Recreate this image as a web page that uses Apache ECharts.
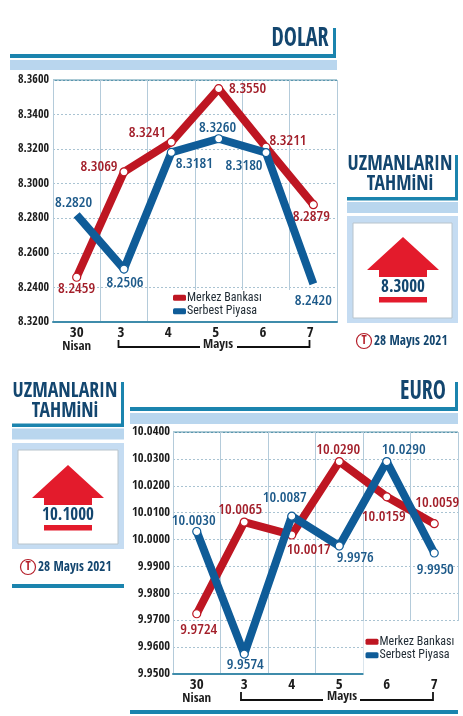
<!DOCTYPE html>
<html>
<head>
<meta charset="utf-8">
<script src="https://cdn.jsdelivr.net/npm/echarts@6/dist/echarts.min.js"></script>
<style>html,body{margin:0;padding:0;background:#fff}#c{width:463px;height:716px}</style>
</head>
<body>
<div id="c"></div>
<script>
// Daily exchange rates, 30 Nisan to 7 Mayıs
const days = ['30', '3', '4', '5', '6', '7'];
const dolarMerkez = [8.2459, 8.3069, 8.3241, 8.3550, 8.3211, 8.2879];
const dolarSerbest = [8.2820, 8.2506, 8.3181, 8.3260, 8.3180, 8.2420];
const euroMerkez = [9.9724, 10.0065, 10.0017, 10.0290, 10.0159, 10.0059];
const euroSerbest = [10.0030, 9.9574, 10.0087, 9.9976, 10.0290, 9.9950];
// The printed scale of the dollar panel, lowest tick first
const dolarTickLabels = ['8.3200', '8.2400', '8.2600', '8.2800', '8.3000', '8.3200', '8.3400', '8.3600'];
const euroTickLabels = ['9.9500', '9.9600', '9.9700', '9.9800', '9.9900', '10.0000', '10.0100', '10.0200', '10.0300', '10.0400'];
const dolarForecast = '8.3000';
const euroForecast = '10.1000';

// Value label placement relative to each point
const dolarMerkezOffsets = [[0, 12], [-25, -5], [-24, -9], [29, 0], [22, -7], [-2, 12]];
const dolarSerbestOffsets = [[-3, -12], [1, 14], [23, 11], [-1, -11], [-22, 13], [0, 17]];
const euroMerkezOffsets = [[2, 16], [-4, -12], [17, 15], [-1, -12], [-3, 20], [3, -21]];
const euroSerbestOffsets = [[-3, -11], [1, 11], [-7, -18], [16, 12], [17, -12], [1, 17]];

const RED = '#BE1622', RED_TEXT = '#A31F2A', BLUE = '#0F5C98', BLUE_TEXT = '#1D5A8A';
const NAVY = '#13466F', TEAL = '#1B84AE', PALE = '#B9D6EE';
const BOLD_FONT = '"Open Sans Condensed"', TEXT_FONT = '"Roboto Condensed"';

function lineSeries(name, values, offsets, color, textColor, axis, hideEnds) {
  return {
    type: 'line', name, xAxisIndex: axis, yAxisIndex: axis, z: color === BLUE ? 3 : 2,
    symbol: 'circle', symbolSize: 8, showAllSymbol: true,
    lineStyle: { color, width: 8, cap: 'butt', join: 'round' },
    itemStyle: { color },
    data: values.map((v, i) => {
      // The free-market dollar line runs open-ended, with no dot at either end
      const open = hideEnds && (i === 0 || i === values.length - 1);
      return {
        value: v,
        symbolSize: open ? 0 : 8,
        itemStyle: open ? { color: 'transparent', borderWidth: 0 } : { color: '#fff', borderColor: color, borderWidth: 1.2 },
        label: {
          show: true, position: 'inside', offset: offsets[i], color: textColor,
          fontFamily: '"Open Sans"', fontStyle: 'condensed', fontWeight: 600, fontSize: 15,
          formatter: p => p.value.toFixed(4)
        }
      };
    })
  };
}

function xAxisFor(gridIndex, shift) {
  return {
    type: 'category', gridIndex, data: days, boundaryGap: true,
    axisTick: { show: false },
    axisLine: { lineStyle: { color: '#3F8CAB', width: 2 } },
    splitLine: { show: true, lineStyle: { color: '#B4CBDA', width: 1 } },
    axisLabel: {
      margin: 4, interval: 0, color: '#1c1c1c',
      formatter: v => v === '30' ? '{n|30}\n{m|Nisan}' : '{s|' + v + '}',
      rich: {
        n: { fontSize: 15, fontWeight: 'bold', fontFamily: BOLD_FONT, lineHeight: 14, color: '#1c1c1c' },
        m: { fontSize: 13, fontWeight: 'bold', fontFamily: BOLD_FONT, lineHeight: 13, color: '#1c1c1c' },
        s: { fontSize: 15, fontWeight: 'bold', fontFamily: BOLD_FONT, lineHeight: 14, color: '#1c1c1c', padding: [0, shift, 0, 0] }
      }
    }
  };
}

function yAxisFor(gridIndex, min, max, interval, labels, size, margin) {
  return {
    type: 'value', gridIndex, min, max, interval,
    axisLine: { show: false }, axisTick: { show: false },
    splitLine: { lineStyle: { color: '#A9C3D2', width: 1, type: [2, 2] } },
    axisLabel: {
      margin, fontFamily: BOLD_FONT, fontWeight: 'bold', fontSize: size, color: '#1c1c1c',
      formatter: (v, i) => labels[i]
    }
  };
}

function legendFor(left, top, padding) {
  return {
    left, top, orient: 'vertical', padding, itemGap: 0, backgroundColor: '#fff',
    icon: 'roundRect', itemWidth: 13, itemHeight: 6, z: 1,
    data: ['Merkez Bankası', 'Serbest Piyasa'],
    textStyle: { fontFamily: TEXT_FONT, fontSize: 12, lineHeight: 13.5, color: '#1f2a33', padding: [0, 0, 0, -4] }
  };
}

// Decorative page furniture
const rect = (x, y, w, h, fill) => ({ type: 'rect', shape: { x, y, width: w, height: h }, style: { fill }, silent: true });
const text = (x, y, t, size, scaleX, fill, align) => ({
  type: 'text', x, y, scaleX, silent: true, z: 5,
  style: { text: t, fill: fill || NAVY, font: 'bold ' + size + 'px ' + BOLD_FONT, align: align || 'center', verticalAlign: 'middle' }
});
const segment = (x1, y1, x2, y2, stroke, lineWidth) => ({
  type: 'line', shape: { x1, y1, x2, y2 }, style: { stroke, lineWidth }, silent: true
});

function forecastPanel(o) {
  const cx = o.arrowX;
  return [
    text(o.textX, o.line1Y, 'UZMANLARIN', 22, 0.9),
    text(o.textX, o.line2Y, 'TAHMiNi', 22, 0.89),
    rect(o.right - 3, o.headTop, 3, o.lineY - o.headTop + 3, TEAL),
    rect(o.left, o.lineY, o.right - o.left, 3.5, TEAL),
    rect(o.left, o.lineY + 5, o.right - o.left, 11, PALE),
    rect(o.left, o.boxTop, o.right - o.left, o.boxBottom - o.boxTop, '#C5DCF2'),
    { type: 'rect', shape: { x: o.left + 6, y: o.boxTop + 7, width: o.right - o.left - 12, height: o.boxBottom - o.boxTop - 12 }, style: { fill: '#fff', stroke: '#B8C4CC', lineWidth: 1 }, silent: true },
    { type: 'polygon', silent: true, shape: { points: [[cx, o.arrowTop], [cx + 36, o.arrowTop + 33], [cx + 24, o.arrowTop + 33], [cx + 24, o.arrowTop + 40], [cx - 24, o.arrowTop + 40], [cx - 24, o.arrowTop + 33], [cx - 36, o.arrowTop + 33]] }, style: { fill: '#E31B2C' } },
    text(cx, o.arrowTop + 51, o.value, 17, 1),
    rect(cx - 24, o.arrowTop + 60, 48, 5.5, '#E31B2C'),
    { type: 'circle', silent: true, shape: { cx: o.iconX, cy: o.iconY, r: 7.5 }, style: { fill: '#fff', stroke: '#B5202B', lineWidth: 1.2 } },
    text(o.iconX, o.iconY, 'T', 12, 1, '#B5202B'),
    text(o.iconX + 10, o.iconY, '28 Mayıs 2021', 14, 0.94, NAVY, 'left')
  ];
}

const option = {
  animation: false,
  backgroundColor: '#fff',
  grid: [
    { left: 53, top: 80, width: 284, height: 242 },
    { left: 173, top: 432, width: 285, height: 242 }
  ],
  xAxis: [xAxisFor(0, 6), xAxisFor(1, 0)],
  yAxis: [
    yAxisFor(0, 8.22, 8.36, 0.02, dolarTickLabels, 12, 4),
    yAxisFor(1, 9.95, 10.04, 0.01, euroTickLabels, 12.5, 3)
  ],
  legend: [
    legendFor(170, 290, [1, 40, 3, 3]),
    legendFor(363.5, 621, [14, 5, 13, 2])
  ],
  series: [
    lineSeries('Merkez Bankası', dolarMerkez, dolarMerkezOffsets, RED, RED_TEXT, 0, false),
    lineSeries('Serbest Piyasa', dolarSerbest, dolarSerbestOffsets, BLUE, BLUE_TEXT, 0, true),
    lineSeries('Merkez Bankası', euroMerkez, euroMerkezOffsets, RED, RED_TEXT, 1, false),
    lineSeries('Serbest Piyasa', euroSerbest, euroSerbestOffsets, BLUE, BLUE_TEXT, 1, false)
  ],
  graphic: [{
    type: 'group', silent: true, children: [
      // DOLAR header
      text(300, 39, 'DOLAR', 26, 0.85),
      rect(333, 28, 3, 30, TEAL),
      rect(10, 54, 326, 4, TEAL),
      rect(10, 60, 327, 10, PALE),
      rect(53, 79.5, 284, 1.6, '#5B98AE'),
      // EURO header
      text(423, 392, 'EURO', 26, 0.85),
      rect(455, 382, 3, 29, TEAL),
      rect(130, 407, 328, 4, TEAL),
      rect(130, 413, 328, 11, PALE),
      rect(173, 431.5, 285, 1.6, '#5B98AE'),
      rect(130, 710, 328, 4, TEAL),
      // Mayıs brackets below the day labels
      segment(118.5, 340, 118.5, 347.9, '#111', 1.8), segment(118, 347, 200, 347, '#111', 1.8),
      segment(237, 347, 310, 347, '#111', 1.8), segment(309.5, 340, 309.5, 347.9, '#111', 1.8),
      text(218, 345, 'Mayıs', 13, 1, '#1c1c1c'),
      segment(241, 692, 241, 700.9, '#111', 1.8), segment(240.5, 700, 323, 700, '#111', 1.8),
      segment(360, 700, 433, 700, '#111', 1.8), segment(433, 692, 433, 700.9, '#111', 1.8),
      text(342, 697, 'Mayıs', 13, 1, '#1c1c1c'),
      // Forecast panels
      ...forecastPanel({ left: 347, right: 458, headTop: 155, lineY: 197, boxTop: 216, boxBottom: 323, textX: 400, line1Y: 164, line2Y: 184, arrowX: 403, arrowTop: 237, value: dolarForecast, iconX: 364, iconY: 341 }),
      ...forecastPanel({ left: 12, right: 124, headTop: 382, lineY: 423.5, boxTop: 443, boxBottom: 549, textX: 65, line1Y: 391, line2Y: 411, arrowX: 68, arrowTop: 465, value: euroForecast, iconX: 28, iconY: 567 }),
      rect(12, 584, 112, 4, TEAL)
    ]
  }]
};

echarts.init(document.getElementById('c'), null, { renderer: 'canvas' }).setOption(option);
</script>
</body>
</html>
